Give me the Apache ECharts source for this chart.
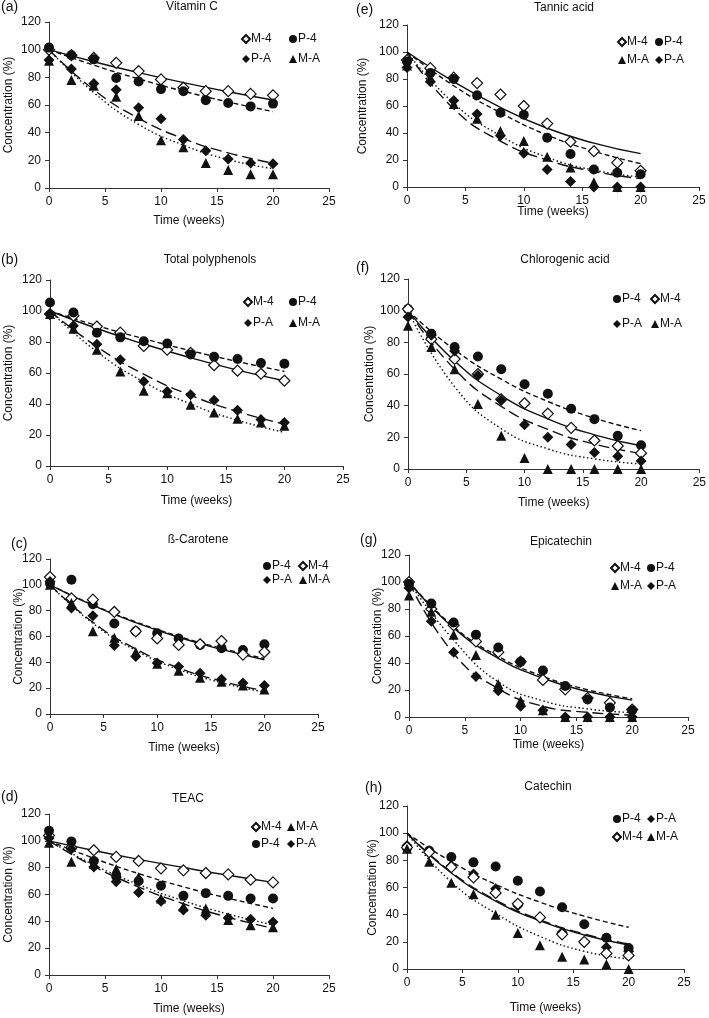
<!DOCTYPE html>
<html>
<head>
<meta charset="utf-8">
<script src="https://cdn.jsdelivr.net/npm/echarts@6/dist/echarts.min.js"></script>
<style>
  html, body { margin: 0; padding: 0; background: #fff; }
  #chart { width: 709px; height: 1018px; }
</style>
</head>
<body>
<div id="chart"></div>
<script>
// sampling times (weeks)
const weeks = [0, 2, 4, 6, 8, 10, 12, 14, 16, 18, 20];
const fitWeeks = [0, 4, 8, 12, 16, 20];

// (a) Vitamin C
const aM4 = [100, 96, 94, 90.5, 84.5, 78.5, 72.5, 70, 70, 68, 67];
const aP4 = [101.5, 96, 93, 79.5, 77, 71.5, 70, 63.5, 61.5, 59, 61];
const aPA = [92.5, 86, 75.5, 71, 58, 50, 35, 27, 21, 18, 17.5];
const aMA = [92, 78, 74, 66, 52, 34.5, 29.5, 18, 13, 10, 10];
const aM4fit = [100, 91.3, 83.4, 76.2, 69.6, 63.6];
const aP4fit = [100, 88.8, 78.9, 70, 62.2, 55.2];
const aPAfit = [100, 71, 50.4, 35.7, 25.4, 18];
const aMAfit = [100, 69, 46, 31, 20.5, 14];

// (b) Total polyphenols
const bM4 = [98, 97, 90, 86, 77.5, 75, 73, 65, 61.5, 59.5, 55];
const bP4 = [105.5, 99, 86, 83, 80.5, 79, 72, 70.5, 69, 66.5, 66];
const bPA = [98, 90.5, 78.5, 68.5, 54.5, 48, 46, 42.5, 36, 30, 28];
const bMA = [98, 88.5, 75, 61, 48.5, 47, 39.5, 34.5, 30.5, 28, 26];
const bM4fit = [100, 88.7, 78.7, 69.8, 61.9, 55];
const bP4fit = [100, 90.6, 82.1, 74.4, 67.4, 61];
const bPAfit = [100, 77, 59.2, 45.6, 35.1, 27];
const bMAfit = [100, 73.7, 54.3, 40, 29.5, 21.7];

// (c) ß-Carotene
const cP4 = [101, 104, 85, 70, 64, 62.5, 58.5, 53.5, 51, 49.5, 54];
const cM4 = [106, 89.5, 88.5, 79, 64, 58.5, 53.5, 54, 56.5, 46, 48];
const cPA = [102.5, 82, 76, 53, 44.5, 39.5, 36.5, 31.5, 27, 24, 22];
const cMA = [100, 86, 64, 59, 48, 39, 33.5, 28, 25, 22, 19];
const cM4fit = [100, 84.1, 70.7, 59.4, 50, 42];
const cP4fit = [100, 84.5, 71.3, 60.2, 50.9, 43];
const cPAfit = [100, 71, 50.4, 35.7, 25.4, 18];
const cMAfit = [100, 70.2, 49.2, 34.5, 24.2, 17];

// (d) TEAC
const dM4 = [104, 95, 93, 88, 85, 79.5, 78, 76, 75, 71, 69];
const dP4 = [107.5, 99.5, 85, 73.5, 70, 66.5, 59, 61, 59, 57, 57];
const dMA = [98.5, 84.5, 83, 79, 73, 57, 51, 49.5, 41, 37, 35.5];
const dPA = [102, 94, 80.5, 69.5, 61.5, 55, 48.5, 44.5, 42.5, 41.5, 39.5];
const dM4fit = [100, 92.8, 86.2, 80.1, 74.3, 69];
const dP4fit = [100, 87, 75.6, 65.7, 57.2, 49.7];
const dMAfit = [100, 82.1, 67.4, 55.3, 45.4, 37.3];
const dPAfit = [100, 81, 65.6, 53.1, 43, 34.8];

// (e) Tannic acid
const eM4 = [94, 88, 81, 77, 68.5, 60, 47, 33.5, 26.5, 18, 12];
const eP4 = [93, 84.5, 80, 68, 55, 53.5, 36.5, 24.5, 13, 10.5, 9.5];
const eMA = [90, 81, 61.5, 50.5, 41.5, 34, 22.5, 14.5, 3.5, 0, 0];
const ePA = [88.5, 78, 64, 54, 38, 25, 13, 4, 0, 0, 0];
const eM4fit = [100, 78, 59, 43.5, 32.5, 24.7];
const eP4fit = [100, 75, 55, 38.5, 26.5, 17.3];
const eMAfit = [100, 62, 38, 22, 12.5, 7.4];
const ePAfit = [100, 58, 34, 20, 11.5, 6.2];

// (f) Chlorogenic acid
const fP4 = [101, 85.5, 77, 71, 63, 53.5, 47.5, 38, 31.5, 21, 15];
const fM4 = [101, 82, 69.5, 60, 44, 41.5, 35, 26, 18, 14.5, 10];
const fPA = [96, 84.5, 74.5, 59, 43.5, 28, 20, 15.5, 10.5, 8, 5];
const fMA = [90.5, 77, 63, 41, 21, 7, 0, 0, 0, 0, 0];
const fP4fit = [100, 75.3, 56.7, 42.7, 32.1, 24.2];
const fM4fit = [100, 68.2, 46.4, 31.7, 21.6, 14.7];
const fPAfit = [100, 63, 39.6, 25, 15.7, 9.9];
const fMAfit = [100, 52, 25.5, 12.7, 6.4, 3.2];

// (g) Epicatechin
const gM4 = [100, 80, 68, 56, 48, 41, 27.5, 20.5, 14, 10.5, 5.5];
const gP4 = [98.5, 84, 70, 61, 51.5, 41, 34.5, 23, 13, 7, 5];
const gMA = [90, 78, 61, 46, 24.5, 12, 5, 0, 0, 0, 0];
const gPA = [95.5, 71, 48, 30, 19.5, 8, 5, 0, 0, 0, 0];
const gM4fit = [100, 66, 43.5, 28.7, 18.9, 12.5];
const gP4fit = [100, 67, 44.9, 30.1, 20.2, 13.5];
const gMAfit = [100, 57, 26, 12, 6, 3.2];
const gPAfit = [100, 47, 21, 8, 3.5, 1.5];

// (h) Catechin
const hP4 = [89, 87, 82.5, 78.5, 75.5, 65, 57, 45.5, 33, 23, 15.5];
const hPA = [91, 87, 76, 70, 59, 46.5, 37.5, 27, 19.5, 16, 13];
const hM4 = [89.5, 86, 75, 67.5, 56, 48, 38, 25.5, 20, 11.5, 10];
const hMA = [88.5, 79, 63.5, 55, 40, 26.5, 17.5, 9, 7, 3.5, 0];
const hP4fit = [100, 79, 62.3, 49.2, 38.9, 30.7];
const hM4fit = [100, 70.7, 50, 35.4, 25, 17.7];
const hPAfit = [100, 71.3, 50.8, 36.2, 25.8, 18.4];
const hMAfit = [100, 64, 41, 24, 13, 7.4];

const FONT = "'Liberation Sans', Arial, sans-serif";
const INK = "#111";

const markers = {
  "M-4": { symbol: "diamond", symbolSize: 11, itemStyle: { color: "#fff", borderColor: INK, borderWidth: 1.2, opacity: 1 } },
  "P-4": { symbol: "circle", symbolSize: 10, itemStyle: { color: INK, opacity: 1 } },
  "P-A": { symbol: "diamond", symbolSize: 11, itemStyle: { color: INK, opacity: 1 } },
  "M-A": { symbol: "triangle", symbolSize: 10, itemStyle: { color: INK, opacity: 1 } },
};
const dashes = { "M-4": "solid", "P-4": [5, 3], "P-A": [11, 5], "M-A": [1.5, 2.5] };

// layout of each panel (pixel boxes)
// leg: [icon centre x of col 1, icon centre x of col 2, y of row 1, y of row 2, col 1 names, col 2 names]
const panels = [
  { tag: "(a)", title: "Vitamin C", box: [49, 22, 280, 166], tx: 192, ty: 1, lx: 1, ly: 0, nameY: 34, nameX: 27,
    pts: { "M-4": aM4, "P-4": aP4, "P-A": aPA, "M-A": aMA }, fits: { "M-4": aM4fit, "P-4": aP4fit, "P-A": aPAfit, "M-A": aMAfit },
    leg: [245, 293, 39, 59, ["M-4", "P-A"], ["P-4", "M-A"]] },
  { tag: "(b)", title: "Total polyphenols", box: [50, 280, 293, 186], tx: 210, ty: 254, lx: 1, ly: 253, nameY: 35, nameX: 29,
    pts: { "M-4": bM4, "P-4": bP4, "P-A": bPA, "M-A": bMA }, fits: { "M-4": bM4fit, "P-4": bP4fit, "P-A": bPAfit, "M-A": bMAfit },
    leg: [247, 293, 302, 323, ["M-4", "P-A"], ["P-4", "M-A"]] },
  { tag: "(c)", title: "ß-Carotene", box: [50, 559, 268, 155], tx: 198, ty: 534, lx: 11, ly: 537, nameY: 25, nameX: 28,
    pts: { "P-4": cP4, "M-4": cM4, "P-A": cPA, "M-A": cMA }, fits: { "M-4": cM4fit, "P-4": cP4fit, "P-A": cPAfit, "M-A": cMAfit },
    leg: [267, 302, 566, 580, ["P-4", "P-A"], ["M-4", "M-A"]] },
  { tag: "(d)", title: "TEAC", box: [49, 814, 280, 161], tx: 188, ty: 793, lx: 1, ly: 790, nameY: 34, nameX: 28,
    pts: { "M-4": dM4, "P-4": dP4, "M-A": dMA, "P-A": dPA }, fits: { "M-4": dM4fit, "P-4": dP4fit, "M-A": dMAfit, "P-A": dPAfit },
    leg: [255, 291, 827, 844, ["M-4", "P-4"], ["M-A", "P-A"]] },
  { tag: "(e)", title: "Tannic acid", box: [407, 25, 292, 162], tx: 564, ty: 2, lx: 356, ly: 3, nameY: 38, nameX: 19,
    pts: { "M-4": eM4, "P-4": eP4, "M-A": eMA, "P-A": ePA }, fits: { "M-4": eM4fit, "P-4": eP4fit, "M-A": eMAfit, "P-A": ePAfit },
    leg: [621, 659, 42, 60, ["M-4", "M-A"], ["P-4", "P-A"]] },
  { tag: "(f)", title: "Chlorogenic acid", box: [408, 279, 293, 190], tx: 565, ty: 254, lx: 356, ly: 261, nameY: 32, nameX: 28,
    pts: { "P-4": fP4, "M-4": fM4, "P-A": fPA, "M-A": fMA }, fits: { "P-4": fP4fit, "M-4": fM4fit, "P-A": fPAfit, "M-A": fMAfit },
    leg: [617, 654, 299, 324, ["P-4", "P-A"], ["M-4", "M-A"]] },
  { tag: "(g)", title: "Epicatechin", box: [409, 555, 279, 162], tx: 561, ty: 536, lx: 360, ly: 533, nameY: 25, nameX: 22,
    pts: { "M-4": gM4, "P-4": gP4, "M-A": gMA, "P-A": gPA }, fits: { "M-4": gM4fit, "P-4": gP4fit, "M-A": gMAfit, "P-A": gPAfit },
    leg: [614, 651, 568, 586, ["M-4", "M-A"], ["P-4", "P-A"]] },
  { tag: "(h)", title: "Catechin", box: [407, 806, 277, 163], tx: 548, ty: 781, lx: 365, ly: 781, nameY: 28, nameX: 33,
    pts: { "P-4": hP4, "P-A": hPA, "M-4": hM4, "M-A": hMA }, fits: { "P-4": hP4fit, "M-4": hM4fit, "P-A": hPAfit, "M-A": hMAfit },
    leg: [616, 651, 819, 837, ["P-4", "M-4"], ["P-A", "M-A"]] },
];

const grid = [], xAxis = [], yAxis = [], series = [], title = [], legend = [];

panels.forEach((p, i) => {
  const [left, top, width, height] = p.box;
  grid.push({ left, top, width, height, containLabel: false });

  const axisLine = { show: true, lineStyle: { color: "#333", width: 1 } };
  const axisTick = { show: true, inside: false, length: 4, lineStyle: { color: "#333" } };
  xAxis.push({
    type: "value", gridIndex: i, min: 0, max: 25, interval: 5,
    axisLine, axisTick, splitLine: { show: false },
    axisLabel: { color: INK, fontSize: 12, fontFamily: FONT, margin: 8 },
    name: "Time (weeks)", nameLocation: "middle", nameGap: p.nameX, nameMoveOverlap: false,
    nameTextStyle: { color: INK, fontSize: 12, fontFamily: FONT },
  });
  yAxis.push({
    type: "value", gridIndex: i, min: 0, max: 120, interval: 20,
    axisLine, axisTick, splitLine: { show: false },
    axisLabel: { color: INK, fontSize: 12, fontFamily: FONT, margin: 8 },
    name: "Concentration (%)", nameLocation: "middle", nameGap: p.nameY, nameMoveOverlap: false,
    nameTextStyle: { color: INK, fontSize: 12, fontFamily: FONT },
  });

  title.push({ text: p.title, left: p.tx, top: p.ty, textAlign: "center",
    textStyle: { fontSize: 12, fontWeight: "normal", color: INK, fontFamily: FONT }, padding: 0 });
  title.push({ text: p.tag, left: p.lx, top: p.ly,
    textStyle: { fontSize: 14, fontWeight: "normal", color: INK, fontFamily: FONT }, padding: 0 });

  Object.keys(p.fits).forEach(k => {
    series.push({
      type: "line", name: k + " fit " + i, xAxisIndex: i, yAxisIndex: i,
      data: fitWeeks.map((w, j) => [w, p.fits[k][j]]),
      smooth: true, showSymbol: false, silent: true,
      lineStyle: { color: INK, width: 1.4, type: dashes[k] }, z: 2,
    });
  });
  Object.keys(p.pts).forEach(k => {
    series.push(Object.assign({
      type: "scatter", name: k, xAxisIndex: i, yAxisIndex: i,
      data: weeks.map((w, j) => [w, p.pts[k][j]]), z: 3,
    }, markers[k]));
  });

  const [c1, c2, r1, r2, n1, n2] = p.leg;
  [[c1, n1], [c2, n2]].forEach(([cx, names]) => {
    legend.push({
      orient: "vertical", left: cx - 4, top: r1 - 6, padding: 0,
      itemWidth: 8, itemHeight: 8, itemGap: r2 - r1 - 12,
      selectedMode: false, data: names,
      textStyle: { color: INK, fontSize: 12, fontFamily: FONT, lineHeight: 12, padding: [0, 0, 0, -4] },
    });
  });
});

const chart = echarts.init(document.getElementById("chart"), null, { renderer: "canvas" });
chart.setOption({ animation: false, backgroundColor: "#fff", title, legend, grid, xAxis, yAxis, series });
</script>
</body>
</html>
